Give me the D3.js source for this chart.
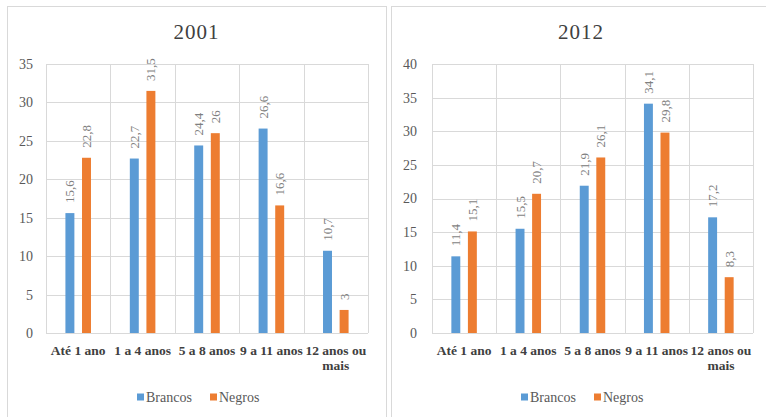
<!DOCTYPE html>
<html>
<head>
<meta charset="utf-8">
<script src="https://cdn.jsdelivr.net/npm/d3@7"></script>
<style>
  html, body { margin: 0; padding: 0; background: #fff; }
  svg { display: block; }
  svg text { font-family: "Liberation Serif", "Times New Roman", "DejaVu Serif", serif !important; }
</style>
</head>
<body>
<svg id="chart" width="766" height="417"></svg>
<script>
// Categories (years of schooling) and series
const categories = ["Até 1 ano", "1 a 4 anos", "5 a 8 anos", "9 a 11 anos", "12 anos ou mais"];
const categoryLines = [["Até 1 ano"], ["1 a 4 anos"], ["5 a 8 anos"], ["9 a 11 anos"], ["12 anos ou", "mais"]];
const seriesNames = ["Brancos", "Negros"];
const seriesColors = ["#5B9BD5", "#ED7D31"];

// Values, 2001
const brancos2001 = [15.6, 22.7, 24.4, 26.6, 10.7];
const negros2001 = [22.8, 31.5, 26, 16.6, 3];
const ticks2001 = [0, 5, 10, 15, 20, 25, 30, 35];

// Values, 2012
const brancos2012 = [11.4, 15.5, 21.9, 34.1, 17.2];
const negros2012 = [15.1, 20.7, 26.1, 29.8, 8.3];
const ticks2012 = [0, 5, 10, 15, 20, 25, 30, 35, 40];

const svg = d3.select("#chart");
const fmt = v => String(v).replace(".", ",");

const panels = [
  { title: "2001", values: [brancos2001, negros2001], ticks: ticks2001,
    box: [7, 6, 379, 420], plot: [46, 64, 368, 333], tickPad: 13 },
  { title: "2012", values: [brancos2012, negros2012], ticks: ticks2012,
    box: [391, 6, 380, 420], plot: [432, 64, 753, 333], tickPad: 15 }
];

panels.forEach(p => {
  const [bx, by, bw, bh] = p.box;
  const [left, top, right, bottom] = p.plot;
  const g = svg.append("g");

  // panel frame
  g.append("rect")
    .attr("x", bx + 0.5).attr("y", by + 0.5)
    .attr("width", bw).attr("height", bh)
    .attr("fill", "#fff").attr("stroke", "#d9d9d9");

  // title
  g.append("text")
    .attr("x", bx + bw / 2).attr("y", 39)
    .attr("text-anchor", "middle")
    .attr("font-size", 21).attr("letter-spacing", 1)
    .attr("fill", "#404040")
    .text(p.title);

  const x0 = d3.scaleBand().domain(categories).range([left, right]);
  const x1 = d3.scaleBand().domain(seriesNames).range([0, x0.bandwidth()])
    .paddingInner(0.46).paddingOuter(1.17);
  const y = d3.scaleLinear().domain([0, d3.max(p.ticks)]).range([bottom, top]);

  // horizontal gridlines + y tick labels
  const yAxis = g.append("g")
    .attr("transform", `translate(${left},0)`)
    .call(d3.axisLeft(y).tickValues(p.ticks).tickSize(-(right - left)).tickPadding(p.tickPad));
  yAxis.select(".domain").remove();
  yAxis.selectAll(".tick line").attr("stroke", "#d9d9d9").attr("shape-rendering", "crispEdges");
  yAxis.selectAll(".tick text")
    .attr("font-size", 14).attr("fill", "#595959");

  // vertical gridlines at category boundaries
  const bounds = categories.map(c => x0(c)).concat([right]);
  g.append("g").selectAll("line").data(bounds).join("line")
    .attr("x1", d => Math.round(d) + 0.5).attr("x2", d => Math.round(d) + 0.5)
    .attr("y1", top).attr("y2", bottom)
    .attr("stroke", "#d9d9d9");

  // category labels
  const xAxis = g.append("g")
    .attr("transform", `translate(0,${bottom})`)
    .call(d3.axisBottom(x0).tickSize(0).tickPadding(0));
  xAxis.select(".domain").remove();
  xAxis.selectAll(".tick text").each(function(d, i) {
    const t = d3.select(this);
    t.text(null)
      .attr("y", 0).attr("dy", null)
      .attr("font-size", 13.5).attr("font-weight", "bold")
      .attr("fill", "#404040");
    categoryLines[i].forEach((line, k) => {
      t.append("tspan").attr("x", 0).attr("y", 22 + k * 15).text(line);
    });
  });

  // bars and value labels
  seriesNames.forEach((s, si) => {
    const vals = p.values[si];
    const sg = g.append("g");
    sg.selectAll("rect").data(vals).join("rect")
      .attr("x", (d, i) => x0(categories[i]) + x1(s))
      .attr("width", x1.bandwidth())
      .attr("y", d => y(d))
      .attr("height", d => y(0) - y(d))
      .attr("fill", seriesColors[si]);
    sg.selectAll("text").data(vals).join("text")
      .attr("transform", (d, i) => {
        const cx = x0(categories[i]) + x1(s) + x1.bandwidth() / 2;
        return `translate(${cx},${y(d) - 10}) rotate(-90)`;
      })
      .attr("dy", "0.35em")
      .attr("text-anchor", "start")
      .attr("font-size", 13).attr("fill", "#7f7f7f")
      .text(d => fmt(d));
  });

  // legend
  const legendX = [bx + 130, bx + 203];
  seriesNames.forEach((s, si) => {
    const lg = g.append("g").attr("transform", `translate(${legendX[si]},397)`);
    lg.append("rect").attr("x", 0).attr("y", -3.5).attr("width", 7).attr("height", 7)
      .attr("fill", seriesColors[si]);
    lg.append("text").attr("x", 9).attr("y", 0).attr("dy", "0.35em")
      .attr("font-size", 14).attr("fill", "#595959").text(s);
  });
});
</script>
</body>
</html>
